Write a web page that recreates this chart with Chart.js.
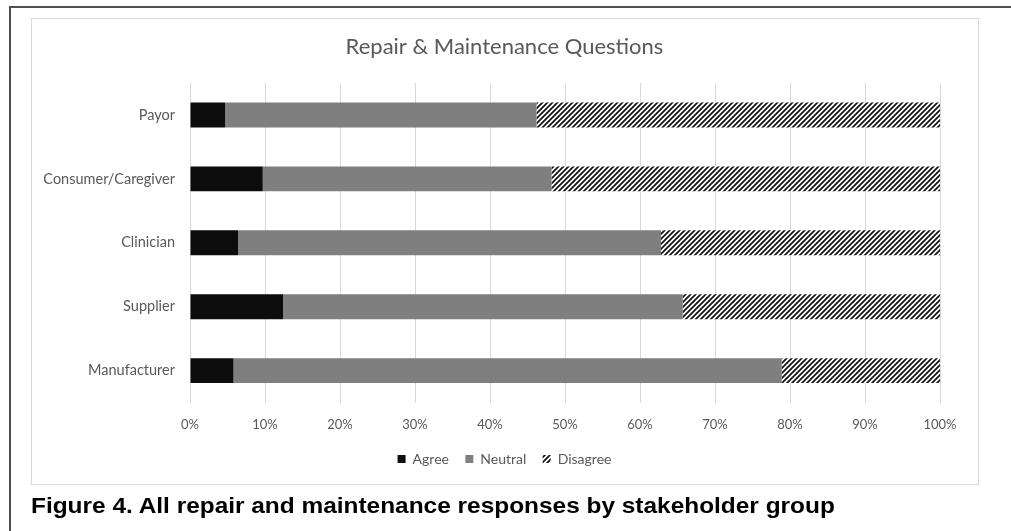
<!DOCTYPE html>
<html>
<head>
<meta charset="utf-8">
<title>Repair &amp; Maintenance Questions</title>
<script src="https://cdn.jsdelivr.net/npm/chart.js@4"></script>
<style>
  html, body { margin: 0; padding: 0; background: #fff; }
  #page { position: relative; width: 1011px; height: 531px; overflow: hidden; }
  #frame { position: absolute; left: 9px; top: 6px; width: 1100px; height: 600px;
           border-left: 2px solid #4f4f4f; border-top: 2px solid #4f4f4f; }
  #chartBox { position: absolute; left: 31px; top: 18px; width: 946px; height: 465px;
              border: 1px solid #d9d9d9; }
  #chart { position: absolute; left: 0; top: 0; }
  #caption { position: absolute; left: 31px; top: 495px; font: bold 22px "Liberation Sans", Arial, sans-serif;
             line-height: 22px; color: #000; white-space: nowrap;
             transform: scaleX(1.11); transform-origin: left top; }
</style>
</head>
<body>
<div id="page">
  <div id="frame"></div>
  <div id="chartBox"></div>
  <canvas id="chart" width="1011" height="531"></canvas>
  <div id="caption">Figure 4. All repair and maintenance responses by stakeholder group</div>
</div>
<script>
const groups = ["Payor", "Consumer/Caregiver", "Clinician", "Supplier", "Manufacturer"]
const agree = [4.7, 9.7, 6.4, 12.4, 5.8]
const neutral = [41.5, 38.5, 56.4, 53.3, 73.1]
const disagree = [53.8, 51.8, 37.2, 34.3, 21.1]
const tickLabels = ["0%", "10%", "20%", "30%", "40%", "50%", "60%", "70%", "80%", "90%", "100%"]

const textColor = "#595959"
const fontFamily = "Lato, 'Open Sans', sans-serif"

// upward diagonal hatch used for the Disagree series
const hatch = (() => {
  const size = 5
  const c = document.createElement("canvas")
  c.width = size
  c.height = size
  const g = c.getContext("2d")
  g.fillStyle = "#fff"
  g.fillRect(0, 0, size, size)
  g.strokeStyle = "#111"
  g.lineWidth = 1.7
  g.beginPath()
  g.moveTo(-1, size + 1); g.lineTo(size + 1, -1)
  g.moveTo(-1, 1); g.lineTo(1, -1)
  g.moveTo(size - 1, size + 1); g.lineTo(size + 1, size - 1)
  g.stroke()
  return g.createPattern(c, "repeat")
})()

const ctx = document.getElementById("chart")

/* eslint-disable no-undef */
new Chart(ctx, {
  type: "bar",
  data: {
    labels: groups,
    datasets: [
      { label: "Agree", data: agree, backgroundColor: "#0d0d0d" },
      { label: "Neutral", data: neutral, backgroundColor: "#7f7f7f" },
      { label: "Disagree", data: disagree, backgroundColor: hatch }
    ]
  },
  options: {
    indexAxis: "y",
    responsive: false,
    animation: false,
    devicePixelRatio: 1,
    barPercentage: 0.39,
    categoryPercentage: 1,
    layout: {
      padding: { left: 31, right: 33, top: 19, bottom: 55 }
    },
    scales: {
      x: {
        stacked: true,
        min: 0,
        max: 100,
        border: { display: false },
        grid: { color: "#d9d9d9", drawTicks: false },
        ticks: {
          stepSize: 10,
          padding: 14,
          color: textColor,
          font: { family: fontFamily, size: 13 },
          callback: (value, index) => tickLabels[index]
        },
        afterFit: (scale) => { scale.height = 33 }
      },
      y: {
        stacked: true,
        border: { display: false },
        grid: { display: false, drawTicks: false },
        ticks: {
          padding: 15,
          color: textColor,
          font: { family: fontFamily, size: 14.5 }
        },
        afterFit: (scale) => { scale.width = 159 }
      },
      // empty right-hand axis, only keeps the plot clear of the right edge
      yRight: {
        type: "linear",
        position: "right",
        border: { display: false },
        grid: { display: false, drawTicks: false },
        ticks: { display: false },
        afterFit: (scale) => { scale.width = 38 }
      }
    },
    plugins: {
      title: {
        display: true,
        text: "Repair & Maintenance Questions",
        color: textColor,
        font: { family: fontFamily, size: 22, weight: "normal" },
        padding: { top: 14.8, bottom: 22.8 }
      },
      legend: {
        position: "bottom",
        labels: {
          boxWidth: 8,
          boxHeight: 8,
          padding: 16.4,
          color: textColor,
          font: { family: fontFamily, size: 14 }
        }
      },
      tooltip: { enabled: false }
    }
  }
})
</script>
</body>
</html>
